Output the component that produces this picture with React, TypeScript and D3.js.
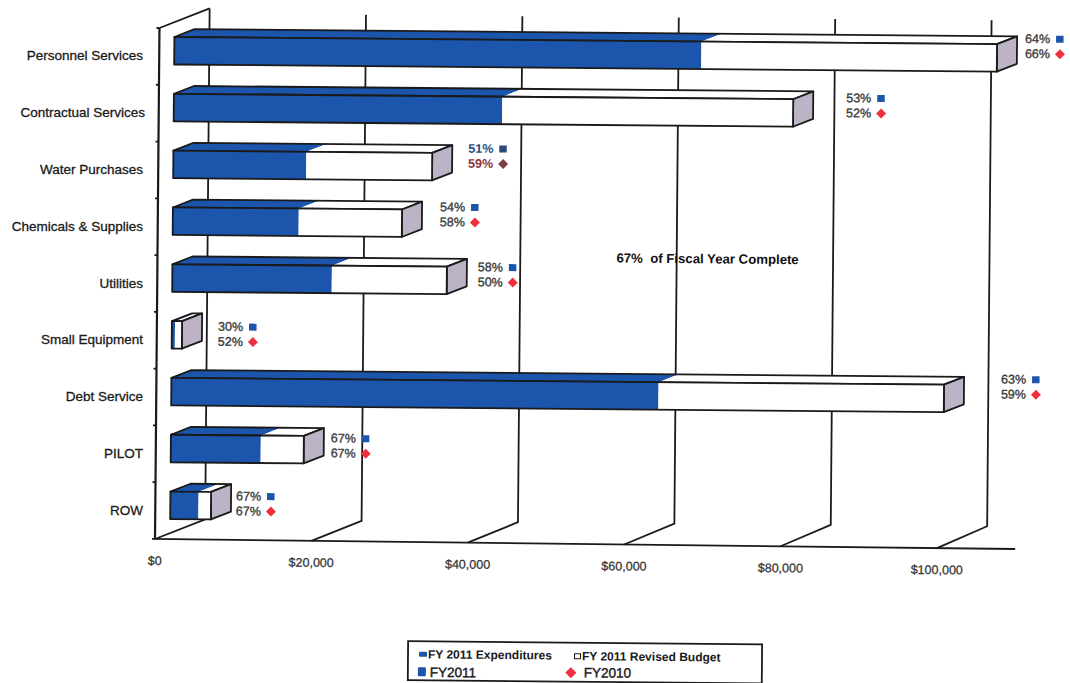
import React from "react";
import * as d3 from "d3";

// Budget categories, top to bottom
const categories = ["Personnel Services", "Contractual Services", "Water Purchases", "Chemicals & Supplies", "Utilities", "Small Equipment", "Debt Service", "PILOT", "ROW"];
// Amounts in dollars
const expenditures = [67400, 42000, 17000, 16100, 20400, 400, 62300, 11500, 3600];
const revisedBudget = [105200, 79200, 33100, 29300, 35100, 1300, 98800, 17000, 5200];
// Percent of budget spent per fiscal year
const pctFY2011 = [64, 53, 51, 54, 58, 30, 63, 67, 67];
const pctFY2010 = [66, 52, 59, 58, 50, 52, 59, 67, 67];
const axisTicks = [0, 20000, 40000, 60000, 80000, 100000];

// Layout of the percent notes beside each bar
const noteGap = [8, 33, 16, 18, 11, 16, 37, 7, 5];
const noteRise = [25, 21, 24, 22, 19, 14, 25, 17, 15];

const FONT = "'Liberation Sans', Arial, sans-serif";
const BLUE = "#1b55ac";
const INK = "#1a1a1a";
const CAP = "#bcb4c6";
const DEPTH = { x: 20, y: -8 };
const WALL = { x: 50, y: -20 };
const FRONT = { x: 15, y: -5 };
const BAR_H = 27.5;

const x = d3.scaleLinear().domain([0, 100000]).range([155, 937]);
const band = d3.scaleBand<string>().domain(categories).range([28, 539]);
// The axis line runs slightly steeper than the bars
const axisY = d3.scaleLinear().domain([0, 110000]).range([539, 541.5]);
const xEnd = x(110000);

const poly = (pts: [number, number][]) => d3.line()(pts) + "Z";

function Bar({ i }: { i: number }) {
  const cy = band(categories[i])! + band.bandwidth() / 2 + FRONT.y - i * -0.05 - 0.8;
  const top = cy - BAR_H / 2;
  const bot = cy + BAR_H / 2;
  const shift = FRONT.x;
  const x0 = x(0) + shift;
  const x1 = x(expenditures[i]) + shift;
  const x2 = x(revisedBudget[i]) + shift;
  const dx = DEPTH.x;
  const dy = DEPTH.y;
  const stroke = { stroke: INK, strokeWidth: 1.8, strokeLinejoin: "round" as const };
  return (
    <g>
      <path d={poly([[x0, top], [x0 + dx, top + dy], [x1 + dx, top + dy], [x1, top]])} fill={BLUE} />
      <path d={poly([[x1, top], [x1 + dx, top + dy], [x2 + dx, top + dy], [x2, top]])} fill="#fff" />
      <path d={poly([[x0, top], [x0 + dx, top + dy], [x2 + dx, top + dy], [x2, top]])} fill="none" {...stroke} />
      <path d={poly([[x2, top], [x2 + dx, top + dy], [x2 + dx, bot + dy], [x2, bot]])} fill={CAP} {...stroke} />
      <rect x={x0} y={top} width={x1 - x0} height={BAR_H} fill={BLUE} />
      <rect x={x1} y={top} width={x2 - x1} height={BAR_H} fill="#fff" />
      <rect x={x0} y={top} width={x2 - x0} height={BAR_H} fill="none" {...stroke} />
    </g>
  );
}

function Diamond({ cx, cy, r, fill }: { cx: number; cy: number; r: number; fill: string }) {
  return <path d={poly([[cx - r, cy], [cx, cy - r], [cx + r, cy], [cx, cy + r]])} fill={fill} />;
}

function Note({ i }: { i: number }) {
  const cy = band(categories[i])! + band.bandwidth() / 2;
  const left = x(revisedBudget[i]) + FRONT.x + DEPTH.x + noteGap[i];
  const y1 = cy - noteRise[i];
  const y2 = y1 + 15;
  const isWater = categories[i] === "Water Purchases";
  const c1 = isWater ? "#2c4a82" : "#3a3a3a";
  const c2 = isWater ? "#8a3338" : "#3a3a3a";
  const weight = { fontSize: 12.5, fontFamily: FONT, fontWeight: isWater ? 700 : 400, dominantBaseline: "central" as const };
  return (
    <g>
      <text x={left} y={y1} fill={c1} {...weight} stroke={c1} strokeWidth={isWater ? 0 : 0.35}>{pctFY2011[i]}%</text>
      <rect x={left + 31} y={y1 - 3.5} width={7.5} height={7} fill={isWater ? "#2f4a78" : BLUE} />
      <text x={left} y={y2} fill={c2} {...weight} stroke={c2} strokeWidth={isWater ? 0 : 0.35}>{pctFY2010[i]}%</text>
      <Diamond cx={left + 35} cy={y2} r={5} fill={isWater ? "#7b3f45" : "#ee2f3c"} />
    </g>
  );
}

export default function App() {
  const wallTop = 13;
  return (
    <svg width={1070} height={683} style={{ position: "absolute", left: 0, top: 0, display: "block" }}>
      <rect width={1070} height={683} fill="#fff" />
      {categories.map((c) => (
        <text key={c} x={c === "Contractual Services" ? 145 : 143} y={band(c)! + band.bandwidth() / 2 - 0.5} textAnchor="end" dominantBaseline="central"
          fontFamily={FONT} fontSize={13.5} fill={INK} stroke={INK} strokeWidth={0.3}>{c}</text>
      ))}
      <g transform="rotate(0.5 155 540)">
        {/* side wall, floor and value gridlines */}
        <g stroke={INK} strokeWidth={1.8} fill="none">
          <path d={`M${x(0)},28V539`} strokeWidth={2.2} />
          <path d={`M${x(0)},28L${x(0) + WALL.x},${wallTop - 5}`} />
          {band.domain().map((c) => (
            <path key={c} d={`M${x(0) - 3},${band(c)}H${x(0)}`} />
          ))}
          <path d={`M${x(0) - 3},539L${xEnd},${axisY(110000)}`} />
          {axisTicks.map((t) => (
            <path key={t} d={`M${x(t)},${axisY(t)}L${x(t) + WALL.x},${539 + WALL.y}V${t === 0 ? wallTop - 5 : wallTop}`} />
          ))}
        </g>
        {categories.map((c, i) => <Bar key={c} i={i} />)}
        {axisTicks.map((t) => (
          <text key={t} x={x(t)} y={axisY(t) + 22} textAnchor="middle" dominantBaseline="central"
            fontFamily={FONT} fontSize={12.5} fill="#333" stroke="#333" strokeWidth={0.25}>
            {d3.format("$,")(t)}
          </text>
        ))}
        {categories.map((c, i) => <Note key={c} i={i} />)}
        <text x={614} y={254} dominantBaseline="central" fontFamily={FONT} fontSize={13.2} fontWeight={700} fill="#111" xmlSpace="preserve">
          67%  of Fiscal Year Complete
        </text>
        {/* legend */}
        <g>
          <rect x={409} y={639} width={354} height={39} fill="#fff" stroke={INK} strokeWidth={1.8} />
          <rect x={420} y={649.5} width={8} height={5} rx={1} fill={BLUE} />
          <text x={429} y={652} dominantBaseline="central" fontFamily={FONT} fontSize={12} fontWeight={700} fill={INK}>FY 2011 Expenditures</text>
          <rect x={575.5} y={650} width={6} height={5} fill="#fff" stroke={INK} strokeWidth={1} />
          <text x={583} y={652.5} dominantBaseline="central" fontFamily={FONT} fontSize={12} fontWeight={700} fill={INK}>FY 2011 Revised Budget</text>
          <rect x={419} y={665} width={8} height={9} rx={1} fill={BLUE} />
          <text x={431} y={670} dominantBaseline="central" fontFamily={FONT} fontSize={13.5} fill={INK} stroke={INK} strokeWidth={0.4}>FY2011</text>
          <Diamond cx={572} cy={669} r={5.5} fill="#ee2f3c" />
          <text x={585} y={669} dominantBaseline="central" fontFamily={FONT} fontSize={13.5} fill={INK} stroke={INK} strokeWidth={0.4}>FY2010</text>
        </g>
      </g>
    </svg>
  );
}
